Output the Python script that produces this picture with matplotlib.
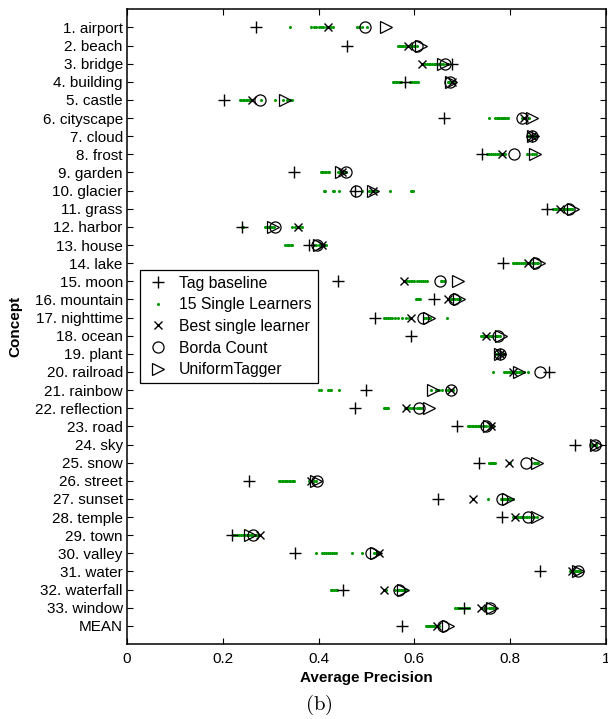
import matplotlib
matplotlib.use("Agg")
import matplotlib.pyplot as plt
import numpy as np

plt.rcParams['font.family'] = ['Liberation Sans', 'DejaVu Sans']
plt.rcParams['mathtext.fontset'] = 'cm'

concepts = ["1. airport", "2. beach", "3. bridge", "4. building", "5. castle",
            "6. cityscape", "7. cloud", "8. frost", "9. garden", "10. glacier",
            "11. grass", "12. harbor", "13. house", "14. lake", "15. moon",
            "16. mountain", "17. nighttime", "18. ocean", "19. plant", "20. railroad",
            "21. rainbow", "22. reflection", "23. road", "24. sky", "25. snow",
            "26. street", "27. sunset", "28. temple", "29. town", "30. valley",
            "31. water", "32. waterfall", "33. window", "MEAN"]

tag_baseline = [0.270, 0.459, 0.678, 0.581, 0.203, 0.661, 0.845, 0.741, 0.349, 0.476,
                0.876, 0.240, 0.380, 0.784, 0.440, 0.641, 0.517, 0.593, 0.779, 0.882,
                0.498, 0.477, 0.688, 0.936, 0.734, 0.254, 0.650, 0.782, 0.219, 0.351,
                0.863, 0.450, 0.704, 0.575]

best_single = [0.420, 0.586, 0.616, 0.678, 0.261, 0.828, 0.845, 0.783, 0.448, 0.514,
               0.903, 0.358, 0.408, 0.837, 0.579, 0.671, 0.593, 0.750, 0.779, 0.805,
               0.676, 0.582, 0.760, 0.975, 0.798, 0.385, 0.723, 0.809, 0.277, 0.526,
               0.929, 0.537, 0.738, 0.648]

borda = [0.497, 0.606, 0.664, 0.674, 0.277, 0.825, 0.845, 0.807, 0.457, 0.479,
         0.923, 0.310, 0.396, 0.851, 0.653, 0.683, 0.618, 0.774, 0.779, 0.862,
         0.676, 0.610, 0.750, 0.978, 0.833, 0.396, 0.783, 0.838, 0.263, 0.509,
         0.941, 0.567, 0.757, 0.660]

uniform = [0.540, 0.613, 0.659, 0.676, 0.330, 0.845, 0.847, 0.851, 0.446, 0.514,
           0.931, 0.305, 0.400, 0.861, 0.690, 0.694, 0.631, 0.781, 0.779, 0.819,
           0.638, 0.631, 0.756, 0.980, 0.857, 0.394, 0.795, 0.857, 0.256, 0.519,
           0.941, 0.576, 0.763, 0.670]

# 15 single learners per concept
singles = [
    [0.341, 0.385, 0.39, 0.395, 0.40, 0.405, 0.41, 0.415, 0.42, 0.425, 0.43, 0.48, 0.485, 0.49, 0.50],
    [0.566, 0.568, 0.570, 0.572, 0.575, 0.577, 0.580, 0.582, 0.584, 0.586, 0.588, 0.590, 0.595, 0.600, 0.605],
    [0.618, 0.622, 0.626, 0.630, 0.633, 0.636, 0.640, 0.643, 0.646, 0.650, 0.655, 0.660, 0.665, 0.668, 0.670],
    [0.556, 0.558, 0.561, 0.564, 0.567, 0.572, 0.590, 0.596, 0.600, 0.604, 0.608, 0.670, 0.673, 0.676, 0.680],
    [0.235, 0.238, 0.242, 0.245, 0.248, 0.251, 0.254, 0.257, 0.260, 0.280, 0.308, 0.325, 0.335, 0.340, 0.345],
    [0.756, 0.768, 0.772, 0.775, 0.777, 0.780, 0.782, 0.785, 0.788, 0.790, 0.793, 0.795, 0.825, 0.830, 0.840],
    [0.838, 0.840, 0.841, 0.842, 0.843, 0.844, 0.845, 0.845, 0.846, 0.847, 0.848, 0.849, 0.850, 0.851, 0.852],
    [0.752, 0.756, 0.760, 0.764, 0.768, 0.772, 0.776, 0.780, 0.785, 0.790, 0.835, 0.840, 0.845, 0.850, 0.854],
    [0.404, 0.407, 0.410, 0.413, 0.416, 0.419, 0.422, 0.440, 0.443, 0.446, 0.448, 0.450, 0.452, 0.455, 0.458],
    [0.411, 0.413, 0.430, 0.433, 0.443, 0.490, 0.505, 0.510, 0.515, 0.520, 0.549, 0.592, 0.594, 0.596, 0.598],
    [0.890, 0.893, 0.896, 0.899, 0.902, 0.905, 0.908, 0.910, 0.915, 0.918, 0.920, 0.922, 0.925, 0.928, 0.930],
    [0.240, 0.242, 0.289, 0.292, 0.295, 0.298, 0.300, 0.302, 0.306, 0.345, 0.350, 0.355, 0.358, 0.362, 0.366],
    [0.330, 0.333, 0.336, 0.339, 0.342, 0.345, 0.390, 0.395, 0.400, 0.403, 0.406, 0.409, 0.411, 0.413, 0.415],
    [0.805, 0.808, 0.812, 0.815, 0.818, 0.822, 0.826, 0.830, 0.835, 0.840, 0.845, 0.848, 0.852, 0.855, 0.858],
    [0.582, 0.585, 0.588, 0.592, 0.596, 0.600, 0.605, 0.610, 0.614, 0.618, 0.622, 0.627, 0.655, 0.658, 0.661],
    [0.603, 0.605, 0.607, 0.609, 0.611, 0.670, 0.673, 0.676, 0.679, 0.682, 0.685, 0.688, 0.690, 0.692, 0.695],
    [0.537, 0.541, 0.545, 0.549, 0.553, 0.560, 0.565, 0.575, 0.582, 0.588, 0.620, 0.625, 0.628, 0.632, 0.669],
    [0.739, 0.741, 0.743, 0.745, 0.747, 0.749, 0.751, 0.753, 0.755, 0.760, 0.765, 0.770, 0.772, 0.775, 0.778],
    [0.772, 0.773, 0.774, 0.775, 0.776, 0.777, 0.778, 0.779, 0.780, 0.781, 0.782, 0.783, 0.784, 0.785, 0.786],
    [0.764, 0.788, 0.791, 0.794, 0.797, 0.800, 0.803, 0.806, 0.809, 0.812, 0.815, 0.818, 0.822, 0.828, 0.837],
    [0.401, 0.404, 0.420, 0.423, 0.426, 0.443, 0.635, 0.645, 0.652, 0.658, 0.665, 0.670, 0.675, 0.678, 0.680],
    [0.537, 0.539, 0.541, 0.543, 0.545, 0.580, 0.583, 0.586, 0.590, 0.595, 0.600, 0.605, 0.610, 0.612, 0.615],
    [0.711, 0.714, 0.717, 0.720, 0.723, 0.726, 0.729, 0.732, 0.735, 0.739, 0.745, 0.750, 0.755, 0.760, 0.765],
    [0.970, 0.971, 0.972, 0.973, 0.974, 0.975, 0.976, 0.977, 0.978, 0.979, 0.980, 0.975, 0.976, 0.977, 0.978],
    [0.756, 0.758, 0.760, 0.762, 0.764, 0.766, 0.768, 0.800, 0.850, 0.851, 0.852, 0.854, 0.855, 0.856, 0.858],
    [0.317, 0.320, 0.323, 0.326, 0.329, 0.332, 0.335, 0.338, 0.341, 0.344, 0.347, 0.349, 0.380, 0.390, 0.395],
    [0.723, 0.753, 0.780, 0.783, 0.785, 0.787, 0.789, 0.791, 0.793, 0.795, 0.797, 0.799, 0.801, 0.803, 0.805],
    [0.805, 0.808, 0.811, 0.814, 0.817, 0.820, 0.823, 0.826, 0.829, 0.832, 0.835, 0.840, 0.845, 0.850, 0.855],
    [0.222, 0.226, 0.230, 0.234, 0.238, 0.242, 0.246, 0.250, 0.254, 0.258, 0.262, 0.266, 0.268, 0.270, 0.272],
    [0.394, 0.408, 0.412, 0.416, 0.420, 0.424, 0.428, 0.432, 0.436, 0.469, 0.490, 0.515, 0.520, 0.525, 0.527],
    [0.925, 0.928, 0.930, 0.930, 0.932, 0.934, 0.935, 0.936, 0.938, 0.939, 0.940, 0.942, 0.943, 0.944, 0.946],
    [0.425, 0.428, 0.432, 0.436, 0.439, 0.537, 0.540, 0.560, 0.565, 0.568, 0.571, 0.574, 0.577, 0.580, 0.583],
    [0.685, 0.688, 0.692, 0.696, 0.700, 0.705, 0.710, 0.715, 0.740, 0.745, 0.750, 0.755, 0.760, 0.765, 0.768],
    [0.624, 0.626, 0.628, 0.630, 0.632, 0.634, 0.636, 0.638, 0.640, 0.642, 0.644, 0.646, 0.648, 0.650, 0.652],
]

ypos = np.arange(1, len(concepts) + 1)

fig = plt.figure(figsize=(6.08, 7.19), dpi=100)
ax = fig.add_axes([0.2089, 0.1043, 0.7878, 0.8828])

green = '#009900'
sx = np.concatenate([np.array(s) for s in singles])
sy = np.repeat(ypos, [len(s) for s in singles])

ax.plot(tag_baseline, ypos, '+', color='k', markersize=9, markeredgewidth=1.0,
        linestyle='none', label='Tag baseline', zorder=3)
ax.plot(sx, sy, 'o', color=green, markersize=2.2, markeredgewidth=0,
        linestyle='none', label='15 Single Learners', zorder=2)
ax.plot(best_single, ypos, 'x', color='k', markersize=5.5, markeredgewidth=1.0,
        linestyle='none', label='Best single learner', zorder=3)
ax.plot(borda, ypos, 'o', markerfacecolor='none', markeredgecolor='k', markersize=8,
        markeredgewidth=0.9, linestyle='none', label='Borda Count', zorder=3)
ax.plot(uniform, ypos, '>', markerfacecolor='none', markeredgecolor='k', markersize=8,
        markeredgewidth=0.9, linestyle='none', label='UniformTagger', zorder=3)

ax.set_xlim(0, 1)
ax.set_ylim(35, 0)
ax.set_yticks(ypos)
ax.set_yticklabels(concepts)
ax.set_xticks([0, 0.2, 0.4, 0.6, 0.8, 1])
ax.set_xticklabels(['0', '0.2', '0.4', '0.6', '0.8', '1'])
ax.tick_params(direction='in', top=True, right=True, labelsize=11, length=4,
               width=0.8)
ax.tick_params(axis='x', pad=6)
ax.tick_params(axis='y', pad=3)
for sp in ax.spines.values():
    sp.set_linewidth(1.1)

ax.set_xlabel('Average Precision', fontsize=11, fontweight='bold', labelpad=3)
ax.set_ylabel('Concept', fontsize=11, fontweight='bold', labelpad=9)

leg = ax.legend(loc='upper left', bbox_to_anchor=(0.027, 0.590), borderaxespad=0,
                fontsize=11.3, fancybox=False, framealpha=1, edgecolor='k',
                handletextpad=0.6, labelspacing=0.42, borderpad=0.4,
                handlelength=1.5)
leg.get_frame().set_linewidth(0.9)

fig.text(0.525, 0.003, r'$\mathrm{(b)}$', fontsize=15, ha='center', va='bottom')

fig.savefig('out.png', dpi=100)
